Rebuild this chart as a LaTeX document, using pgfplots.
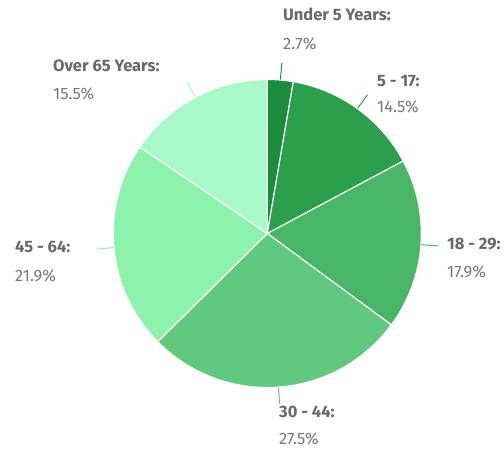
\documentclass[border=0pt]{standalone}
\usepackage{pgfplots}
\usepackage{pgfplotstable}
\pgfplotsset{compat=1.18}
\usepackage{fontspec}
\setmainfont{Fira Sans}
\definecolor{c0}{HTML}{1E8C3E}
\definecolor{c1}{HTML}{2B9F4C}
\definecolor{c2}{HTML}{49B567}
\definecolor{c3}{HTML}{61C97F}
\definecolor{c4}{HTML}{8DF2AC}
\definecolor{c5}{HTML}{A9F8C8}
\definecolor{lab}{HTML}{686868}
\definecolor{val}{HTML}{777777}
\tikzset{L/.style={anchor=base west, text=lab, font=\bfseries\fontsize{16.5}{18}\selectfont, inner sep=0},
         V/.style={anchor=base west, text=val, font=\fontsize{16.5}{18}\selectfont, inner sep=0}}
\pgfplotstableread{
value
2.7
14.5
17.9
27.5
21.9
15.5
}\agedata
\begin{document}
\begin{tikzpicture}
\useasboundingbox (0,0) rectangle (504pt,448pt);
\begin{axis}[at={(0,0)}, anchor=origin, x=1pt, y=1pt, xmin=0, xmax=504, ymin=0, ymax=448,
  hide axis, clip=false]
\def\cum{90}
\pgfplotsforeachungrouped \i in {0,...,5}{%
  \pgfplotstablegetelem{\i}{value}\of\agedata
  \pgfmathsetmacro\sa{\cum}%
  \pgfmathsetmacro\ea{\cum-3.6*\pgfplotsretval}%
  \pgfmathsetmacro\ma{(\sa+\ea)/2}%
  \edef\temp{\noexpand\filldraw[fill=c\i, draw=white, line width=1.1pt, line join=round] (axis cs:267.3,214.5) -- ++(\sa:154pt) arc[start angle=\sa, end angle=\ea, radius=154pt] -- cycle;
   \noexpand\draw[c\i, line width=1pt] (axis cs:267.3,214.5) ++(\ma:154.5pt) -- ++(\ma:16.5pt);}%
  \temp
  \global\let\cum\ea
}
\node[L] at (axis cs:283,427) {Under 5 Years:};
\node[V] at (axis cs:283,398) {2.7\%};
\node[L] at (axis cs:377,361) {5 - 17:};
\node[V] at (axis cs:377,335) {14.5\%};
\node[L] at (axis cs:447,198) {18 - 29:};
\node[V] at (axis cs:447,171) {17.9\%};
\node[L] at (axis cs:279,31) {30 - 44:};
\node[V] at (axis cs:279,4) {27.5\%};
\node[L] at (axis cs:15,195) {45 - 64:};
\node[V] at (axis cs:15,166) {21.9\%};
\node[L] at (axis cs:53,376) {Over 65 Years:};
\node[V] at (axis cs:53,348) {15.5\%};
\end{axis}
\end{tikzpicture}
\end{document}
